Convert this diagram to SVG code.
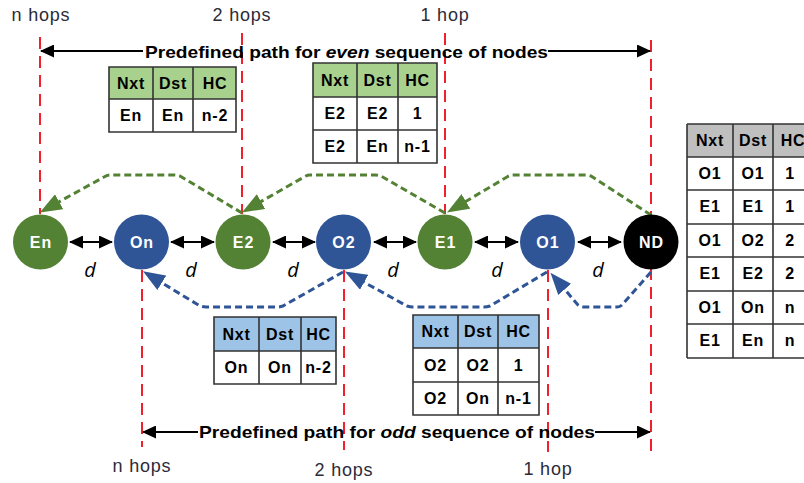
<svg xmlns="http://www.w3.org/2000/svg" width="804" height="483" viewBox="0 0 804 483">
<style>
.bg{fill:#fff}
.red{stroke:#F0202C;stroke-width:2;stroke-dasharray:12 7;fill:none}
.hop{font-family:"Liberation Sans",Arial,sans-serif;font-size:18px;fill:#2b2b3a;text-anchor:middle;letter-spacing:0.8px}
.pre{font-family:"Liberation Sans",Arial,sans-serif;font-size:17px;font-weight:bold;fill:#000}
.nl{font-family:"Liberation Sans",Arial,sans-serif;font-size:16px;font-weight:bold;fill:#fff;text-anchor:middle;letter-spacing:1px}
.d{font-family:"Open Sans","Liberation Sans",sans-serif;font-size:20px;font-style:italic;fill:#000;text-anchor:middle}
.tt{font-family:"Liberation Sans",Arial,sans-serif;font-size:16px;font-weight:bold;fill:#000;text-anchor:middle;letter-spacing:0.8px}
.grid{stroke:#333;stroke-width:1.6;fill:none}
.blk{stroke:#000;stroke-width:2;fill:none}
.gp{stroke:#548235;stroke-width:3;stroke-dasharray:7 4;fill:none;stroke-linejoin:round}
.bp{stroke:#2F5597;stroke-width:3;stroke-dasharray:7 4;fill:none;stroke-linejoin:round}
.green{fill:#548235}
.blue{fill:#2F5597}
</style>
<defs>
<marker id="ah" markerUnits="userSpaceOnUse" markerWidth="14" markerHeight="13" refX="13" refY="6.5" orient="auto-start-reverse" viewBox="0 0 14 13"><path d="M0,0 L14,6.5 L0,13 z" fill="#000"/></marker>
<marker id="ahg" markerUnits="userSpaceOnUse" markerWidth="22" markerHeight="17" refX="15" refY="8.5" orient="auto" viewBox="0 0 22 17"><path d="M0,0 L22,8.5 L0,17 z" fill="#548235"/></marker>
<marker id="ahb" markerUnits="userSpaceOnUse" markerWidth="22" markerHeight="17" refX="15" refY="8.5" orient="auto" viewBox="0 0 22 17"><path d="M0,0 L22,8.5 L0,17 z" fill="#2F5597"/></marker>
</defs>
<rect class="bg" x="0" y="0" width="804" height="483"/>

<g id="hop-lines">
<path class="red" d="M40,37 V214"/>
<path class="red" d="M142,270 V447"/>
<path class="red" d="M242,33 V214"/>
<path class="red" d="M344,270 V450"/>
<path class="red" d="M445,33 V214"/>
<path class="red" d="M548,270 V452"/>
<path class="red" d="M651,40 V453"/>
</g>

<g id="hop-labels">
<text class="hop" x="41" y="21">n hops</text>
<text class="hop" x="242" y="21">2 hops</text>
<text class="hop" x="445" y="21">1 hop</text>
<text class="hop" x="142" y="472">n hops</text>
<text class="hop" x="344" y="476">2 hops</text>
<text class="hop" x="548" y="475">1 hop</text>
</g>

<g id="connectors">
<line class="blk" x1="143" y1="51" x2="41" y2="51" marker-end="url(#ah)"/>
<line class="blk" x1="548" y1="51" x2="650" y2="51" marker-end="url(#ah)"/>
<line class="blk" x1="198" y1="432" x2="143" y2="432" marker-end="url(#ah)"/>
<line class="blk" x1="595" y1="432" x2="650" y2="432" marker-end="url(#ah)"/>
<line class="blk" x1="70" y1="242" x2="112" y2="242" marker-start="url(#ah)" marker-end="url(#ah)"/>
<line class="blk" x1="171" y1="242" x2="214" y2="242" marker-start="url(#ah)" marker-end="url(#ah)"/>
<line class="blk" x1="273" y1="242" x2="315" y2="242" marker-start="url(#ah)" marker-end="url(#ah)"/>
<line class="blk" x1="374" y1="242" x2="416" y2="242" marker-start="url(#ah)" marker-end="url(#ah)"/>
<line class="blk" x1="475" y1="242" x2="518" y2="242" marker-start="url(#ah)" marker-end="url(#ah)"/>
<line class="blk" x1="578" y1="242" x2="621" y2="242" marker-start="url(#ah)" marker-end="url(#ah)"/>
<path class="gp" d="M242,213 L180,176 Q177,175 174,175 L110,175 Q107,175 104,177 L46,209" marker-end="url(#ahg)"/>
<path class="gp" d="M445,213 L381,176 Q378,175 375,175 L310,175 Q307,175 304,177 L248,209" marker-end="url(#ahg)"/>
<path class="gp" d="M651,215 L591,176 Q588,175 585,175 L513,175 Q510,175 507,177 L453,209" marker-end="url(#ahg)"/>
<path class="bp" d="M343,272 L283,306 Q280,307 277,307 L206,307 Q203,307 200,306 L149,275" marker-end="url(#ahb)"/>
<path class="bp" d="M547,272 L490,306 Q487,307 484,307 L413,307 Q410,307 407,306 L351,275" marker-end="url(#ahb)"/>
<path class="bp" d="M651,272 L622,305 Q620,307 617,307 L583,307 Q580,307 578,305 L555,278" marker-end="url(#ahb)"/>
</g>

<g id="path-labels">
<text class="pre" x="145" y="58" textLength="403" lengthAdjust="spacingAndGlyphs">Predefined path for <tspan font-style="italic">even</tspan> sequence of nodes</text>
<text class="pre" x="199" y="438" textLength="396" lengthAdjust="spacingAndGlyphs">Predefined path for <tspan font-style="italic">odd</tspan> sequence of nodes</text>
</g>

<g id="distance-labels">
<text class="d" x="90" y="277">d</text>
<text class="d" x="191" y="277">d</text>
<text class="d" x="293" y="277">d</text>
<text class="d" x="393" y="277">d</text>
<text class="d" x="497" y="277">d</text>
<text class="d" x="598" y="277">d</text>
</g>

<g id="node-En"><circle class="green" cx="40.5" cy="242" r="27.5"/><text class="nl" x="41" y="248">En</text></g>
<g id="node-On"><circle class="blue" cx="141.5" cy="242" r="27.5"/><text class="nl" x="142" y="248">On</text></g>
<g id="node-E2"><circle class="green" cx="243" cy="242" r="27.5"/><text class="nl" x="243.5" y="248">E2</text></g>
<g id="node-O2"><circle class="blue" cx="343.5" cy="242" r="27.5"/><text class="nl" x="344" y="248">O2</text></g>
<g id="node-E1"><circle class="green" cx="445" cy="242" r="27.5"/><text class="nl" x="445.5" y="248">E1</text></g>
<g id="node-O1"><circle class="blue" cx="547.5" cy="242" r="27.5"/><text class="nl" x="548" y="248">O1</text></g>
<g id="node-ND"><circle fill="#000" cx="651" cy="242" r="27.5"/><text class="nl" x="651.5" y="248">ND</text></g>

<g id="table-E2">
<rect x="109" y="67" width="127" height="32" fill="#A9D18E"/>
<rect x="109" y="99" width="127" height="33" fill="#fff"/>
<path class="grid" d="M109,67 H236 V132 H109 Z M109,99 H236 M153,67 V132 M193,67 V132"/>
<text class="tt" x="131" y="89">Nxt</text><text class="tt" x="173" y="89">Dst</text><text class="tt" x="215" y="89">HC</text>
<text class="tt" x="131" y="121">En</text><text class="tt" x="173" y="121">En</text><text class="tt" x="215" y="121">n-2</text>
</g>

<g id="table-E1">
<rect x="313" y="63" width="124" height="34" fill="#A9D18E"/>
<rect x="313" y="97" width="124" height="66" fill="#fff"/>
<path class="grid" d="M313,63 H437 V163 H313 Z M313,97 H437 M313,130 H437 M357,63 V163 M398,63 V163"/>
<text class="tt" x="335" y="86">Nxt</text><text class="tt" x="377.5" y="86">Dst</text><text class="tt" x="417.5" y="86">HC</text>
<text class="tt" x="335" y="119">E2</text><text class="tt" x="377.5" y="119">E2</text><text class="tt" x="417.5" y="119">1</text>
<text class="tt" x="335" y="152">E2</text><text class="tt" x="377.5" y="152">En</text><text class="tt" x="417.5" y="152">n-1</text>
</g>

<g id="table-ND">
<rect x="687" y="124" width="125" height="33" fill="#BFBFBF"/>
<rect x="687" y="157" width="125" height="201" fill="#fff"/>
<path class="grid" d="M687,124 H812 M687,358 H812 M687,124 V358 M733,124 V358 M773,124 V358 M687,157 H812 M687,190 H812 M687,224 H812 M687,257 H812 M687,291 H812 M687,324 H812"/>
<text class="tt" x="710" y="146">Nxt</text><text class="tt" x="753" y="146">Dst</text><text class="tt" x="793" y="146">HC</text>
<text class="tt" x="710" y="179">O1</text><text class="tt" x="753" y="179">O1</text><text class="tt" x="790" y="179">1</text>
<text class="tt" x="710" y="212">E1</text><text class="tt" x="753" y="212">E1</text><text class="tt" x="790" y="212">1</text>
<text class="tt" x="710" y="246">O1</text><text class="tt" x="753" y="246">O2</text><text class="tt" x="790" y="246">2</text>
<text class="tt" x="710" y="279">E1</text><text class="tt" x="753" y="279">E2</text><text class="tt" x="790" y="279">2</text>
<text class="tt" x="710" y="313">O1</text><text class="tt" x="753" y="313">On</text><text class="tt" x="790" y="313">n</text>
<text class="tt" x="710" y="346">E1</text><text class="tt" x="753" y="346">En</text><text class="tt" x="790" y="346">n</text>
</g>

<g id="table-O2">
<rect x="214" y="317" width="122" height="34" fill="#9DC3E6"/>
<rect x="214" y="351" width="122" height="33" fill="#fff"/>
<path class="grid" d="M214,317 H336 V384 H214 Z M214,351 H336 M259,317 V384 M301,317 V384"/>
<text class="tt" x="236.5" y="340">Nxt</text><text class="tt" x="280" y="340">Dst</text><text class="tt" x="318.5" y="340">HC</text>
<text class="tt" x="236.5" y="373">On</text><text class="tt" x="280" y="373">On</text><text class="tt" x="318.5" y="373">n-2</text>
</g>

<g id="table-O1">
<rect x="413" y="315" width="126" height="33" fill="#9DC3E6"/>
<rect x="413" y="348" width="126" height="67" fill="#fff"/>
<path class="grid" d="M413,315 H539 V415 H413 Z M413,348 H539 M413,382 H539 M458,315 V415 M498,315 V415"/>
<text class="tt" x="435.5" y="337">Nxt</text><text class="tt" x="478" y="337">Dst</text><text class="tt" x="518.5" y="337">HC</text>
<text class="tt" x="435.5" y="371">O2</text><text class="tt" x="478" y="371">O2</text><text class="tt" x="518.5" y="371">1</text>
<text class="tt" x="435.5" y="404">O2</text><text class="tt" x="478" y="404">On</text><text class="tt" x="518.5" y="404">n-1</text>
</g>
</svg>
